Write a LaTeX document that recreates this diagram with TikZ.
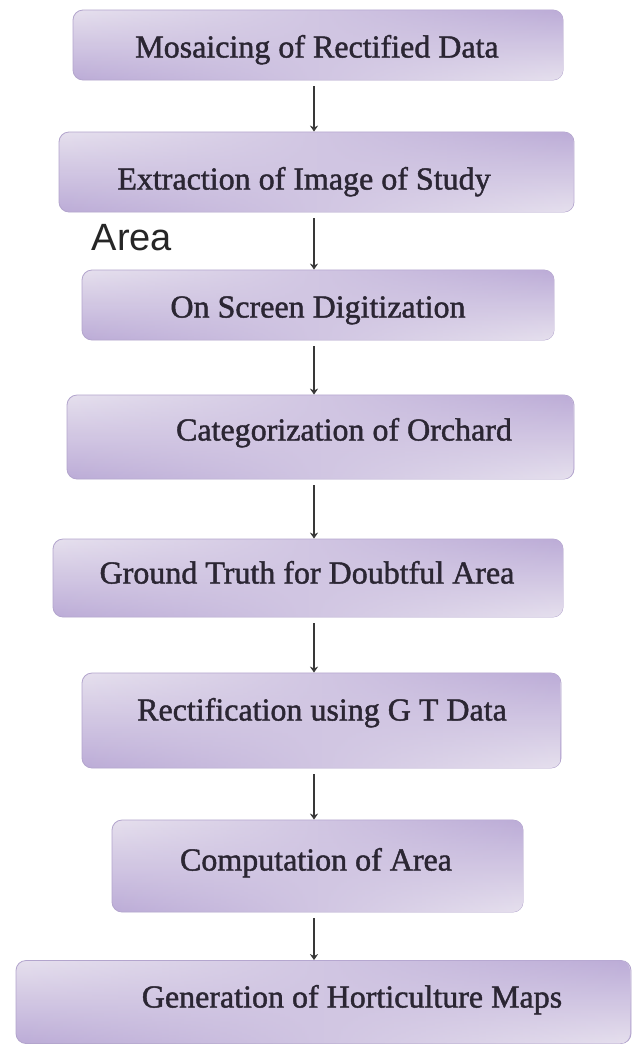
\documentclass[tikz,border=0pt]{standalone}
\usepackage{fontspec}
\setmainfont{Liberation Serif}
\newfontfamily\boxfont{Liberation Serif}[FakeBold=1.4]
\newfontfamily\areafont{Liberation Sans}
\usetikzlibrary{arrows.meta,fadings}
\definecolor{lavLight}{HTML}{E6E0EE}
\definecolor{lavDark}{HTML}{BCACD7}
\definecolor{lavEdge}{HTML}{B3A5CD}
\definecolor{txt}{HTML}{2B2633}
\definecolor{arrowc}{HTML}{383838}
\tikzset{
  stepbox/.style={draw=lavEdge, line width=0.8pt, rounded corners=10pt,
    top color=lavLight, bottom color=lavDark, inner sep=0pt,
    postaction={top color=lavDark, bottom color=lavLight, path fading=west}},
  steptext/.style={text=txt, font=\boxfont\fontsize{32}{36}\selectfont,
    text height=21pt, text depth=0pt, inner sep=0pt},
  flow/.style={draw=arrowc, line width=2.8pt, -{Stealth[length=6pt,width=8pt]},
    shorten <=6pt},
}
\begin{document}
\begin{tikzpicture}[x=1pt,y=-1pt]
\useasboundingbox (0,0) rectangle (638,1045);
\fill[white] (0,0) rectangle (638,1045);
\coordinate (ax) at (314,0);
% boxes
\node[stepbox, minimum width=490pt, minimum height=70pt] (b1) at (318,45) {};
\node[stepbox, minimum width=515pt, minimum height=80pt] (b2) at (316.5,172) {};
\node[stepbox, minimum width=472pt, minimum height=70pt] (b3) at (318,305) {};
\node[stepbox, minimum width=507pt, minimum height=84pt] (b4) at (320.5,437) {};
\node[stepbox, minimum width=510pt, minimum height=78pt] (b5) at (308,578) {};
\node[stepbox, minimum width=479pt, minimum height=95pt] (b6) at (321.5,720.5) {};
\node[stepbox, minimum width=411pt, minimum height=92pt] (b7) at (317.5,866) {};
\node[stepbox, minimum width=615pt, minimum height=83pt] (b8) at (323.5,1002) {};
% texts
\node[steptext] (t1) at (317,47) {Mosaicing of Rectified Data};
\node[steptext] (t2) at (304,179) {Extraction of Image of Study};
\node[steptext] (t3) at (318,307) {On Screen Digitization};
\node[steptext] (t4) at (344,430) {Categorization of Orchard};
\node[steptext] (t5) at (307,573) {Ground Truth for Doubtful Area};
\node[steptext] (t6) at (322,710) {Rectification using G T Data};
\node[steptext] (t7) at (316,860) {Computation of Area};
\node[steptext] (t8) at (352,997) {Generation of Horticulture Maps};
\node[text=black!85, font=\areafont\fontsize{38}{42}\selectfont, inner sep=0pt,
  text height=27pt, text depth=0pt] (area) at (132,237) {Area};
% connectors
\draw[flow] (b1.south -| ax) -- (b2.north -| ax);
\draw[flow] (b2.south -| ax) -- (b3.north -| ax);
\draw[flow] (b3.south -| ax) -- (b4.north -| ax);
\draw[flow] (b4.south -| ax) -- (b5.north -| ax);
\draw[flow] (b5.south -| ax) -- (b6.north -| ax);
\draw[flow] (b6.south -| ax) -- (b7.north -| ax);
\draw[flow] (b7.south -| ax) -- (b8.north -| ax);
\end{tikzpicture}
\end{document}
